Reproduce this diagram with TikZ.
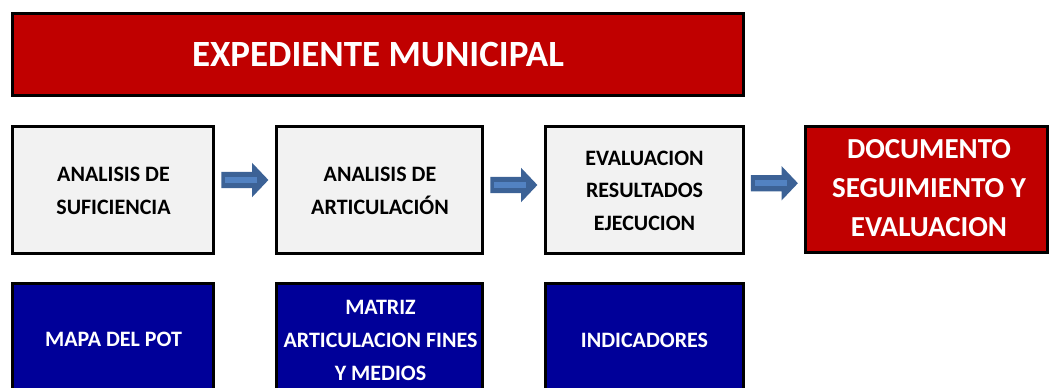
\documentclass[tikz,border=0pt]{standalone}
\usepackage{fontspec}
\setmainfont{Carlito}
\usetikzlibrary{shapes.arrows,calc}
\definecolor{exred}{RGB}{192,0,0}
\definecolor{exgray}{RGB}{242,242,242}
\definecolor{exblue}{RGB}{0,0,153}
\definecolor{arrdark}{RGB}{60,98,150}
\definecolor{arrlight}{RGB}{82,130,194}
\begin{document}
\begin{tikzpicture}[x=1pt,y=-1pt,
  box/.style={draw=black, line width=3pt, inner sep=0pt, rectangle},
  redbox/.style={box, fill=exred},
  graybox/.style={box, fill=exgray},
  bluebox/.style={box, fill=exblue},
  label22/.style={inner sep=0pt, align=center, font=\bfseries\fontsize{22}{#1}\selectfont},
  darktext/.style={label22=#1, text=black},
  whitetext/.style={label22=#1, text=white},
  blockarrow/.style={single arrow, draw=none, fill=arrdark, inner xsep=0pt, inner ysep=8pt,
    minimum height=47pt, single arrow head extend=9pt,
    single arrow tip angle=93},
  stripe/.style={fill=arrlight}
]
\useasboundingbox (0,0) rectangle (1049,388);
\clip (0,0) rectangle (1049,388);

% top banner
\node[redbox, minimum width=731pt, minimum height=82pt] (top) at (378,54.5) {};
\node[inner sep=0pt, text=white, font=\bfseries\fontsize{37}{44}\selectfont] (ttop) at (top.center) {EXPEDIENTE MUNICIPAL};

% second row
\node[graybox, minimum width=201pt, minimum height=127pt] (b1) at (113,190) {};
\node[graybox, minimum width=206pt, minimum height=127pt] (b2) at (379.5,190) {};
\node[graybox, minimum width=198pt, minimum height=127pt] (b3) at (644.5,190) {};
\node[redbox, minimum width=242pt, minimum height=126pt] (b4) at (926.5,189.5) {};

\node[darktext=32.5] (t1) at (113.5,191) {ANALISIS DE\\SUFICIENCIA};
\node[darktext=32.5] (t2) at (380,191) {ANALISIS DE\\ARTICULACIÓN};
\node[darktext=32.5] (t3) at (644.5,190.5) {EVALUACION\\RESULTADOS\\EJECUCION};
\node[inner sep=0pt, align=center, text=white, font=\bfseries\fontsize{29}{39}\selectfont] (t4) at (929,188) {DOCUMENTO\\SEGUIMIENTO Y\\EVALUACION};

% arrows
\node[blockarrow] (a1) at ($(b1.east)!0.5!(b2.west)+(-4,-10)$) {};
\node[blockarrow] (a2) at ($(b2.east)!0.5!(b3.west)+(-4,-5)$) {};
\node[blockarrow] (a3) at ($(b3.east)!0.5!(b4.west)+(-4,-6.5)$) {};
\foreach \a in {a1,a2,a3}{
  \fill[stripe] ($(\a.center)+(-16,-3)$) rectangle ($(\a.center)+(16,3)$);
}

% third row
\node[bluebox, minimum width=201pt, minimum height=135pt] (c1) at (113,351) {};
\node[bluebox, minimum width=206pt, minimum height=135pt] (c2) at (379.5,351) {};
\node[bluebox, minimum width=198pt, minimum height=135pt] (c3) at (644.5,351) {};

\node[whitetext=32] (u1) at (113.5,339) {MAPA DEL POT};
\node[whitetext=32.7] (u2) at (380.5,340.5) {MATRIZ\\ARTICULACION FINES\\Y MEDIOS};
\node[whitetext=32] (u3) at (644.5,340) {INDICADORES};
\end{tikzpicture}
\end{document}
